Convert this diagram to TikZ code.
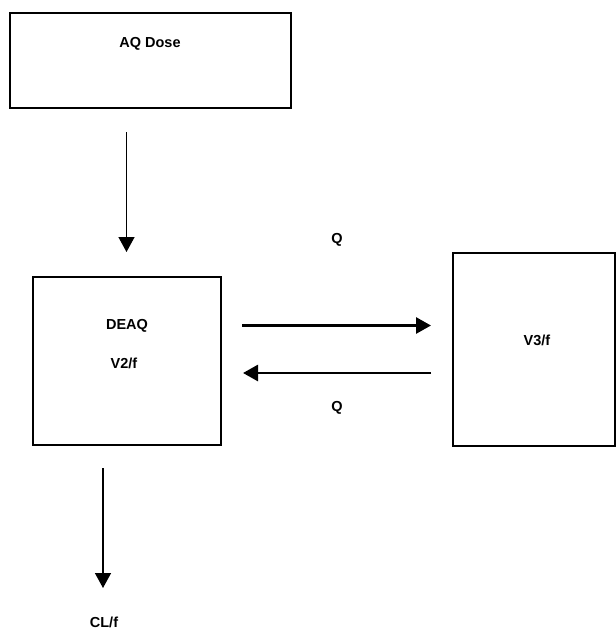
\documentclass[tikz,border=0pt]{standalone}
\usepackage{fontspec}
\setmainfont{Liberation Sans}
\usetikzlibrary{arrows.meta}
\begin{document}
\begin{tikzpicture}[x=1pt,y=-1pt,
  box/.style={draw=black,line width=2.6pt,fill=white},
  lbl/.style={font=\fontsize{14.5}{16}\selectfont\bfseries,inner sep=0pt,anchor=center},
  thinarrow/.style={line width=1.4pt,-{Triangle[length=15pt,width=16pt]}},
  thickarrow/.style={line width=2.8pt,-{Triangle[length=15pt,width=16pt]}}]
\useasboundingbox[fill=white] (0,0) rectangle (616,630);
\draw[box] (10,13) rectangle (291,108);
\node[lbl] (aq) at (150,44) {AQ Dose};
\draw[box] (33,277) rectangle (221,445);
\node[lbl] (deaq) at (127,326) {DEAQ};
\node[lbl] (v2) at (124,363) {V2/f};
\draw[box] (453,253) rectangle (615,446);
\node[lbl] (v3) at (537,340) {V3/f};
\node[lbl] (q1) at (337,240) {Q};
\node[lbl] (q2) at (337,408) {Q};
\node[lbl] (cl) at (104,622.5) {CL/f};
\coordinate (a1s) at (126.5,132);
\coordinate (a1e) at (126.5,252);
\coordinate (a2s) at (242,325.5);
\coordinate (a2e) at (431,325.5);
\coordinate (a3s) at (431,373);
\coordinate (a3e) at (243,373);
\coordinate (a4s) at (103,468);
\coordinate (a4e) at (103,588);
\draw[thinarrow] (a1s) -- (a1e);
\draw[thickarrow] (a2s) -- (a2e);
\draw[thickarrow] (a3s) -- (a3e);
\draw[thinarrow] (a4s) -- (a4e);
\end{tikzpicture}
\end{document}
